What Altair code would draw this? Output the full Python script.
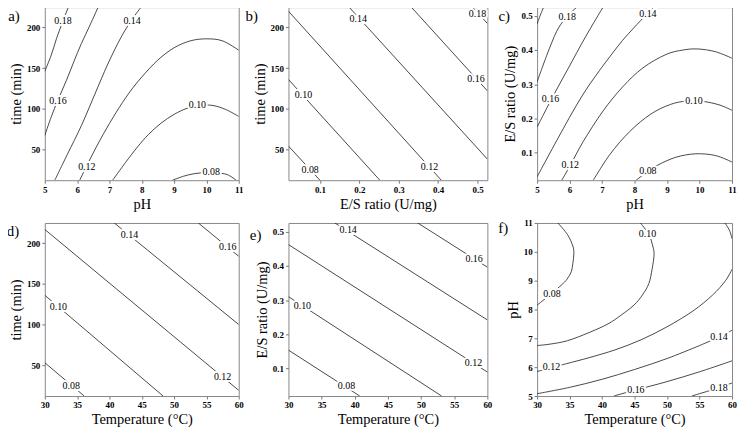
import altair as alt
import pandas as pd

SERIF = "Liberation Serif"

# ---------------- data ----------------
PH_TICKS = [5, 6, 7, 8, 9, 10, 11]
TIME_TICKS = [50, 100, 150, 200]
ES_TICKS = [0.1, 0.2, 0.3, 0.4, 0.5]
TEMP_TICKS = [30, 35, 40, 45, 50, 55, 60]
PH_DOMAIN = [5, 11]
TIME_DOMAIN = [12, 225]
ES_DOMAIN = [0.02, 0.525]
TEMP_DOMAIN = [30, 60]

# a) time vs pH : contour level -> (pH, time) points
A_LINES = {
    "0.18": [(5.0, 146), (5.2, 166), (5.36, 186), (5.56, 208), (5.73, 225)],
    "0.16": [(5.0, 67), (5.2, 90), (5.41, 111), (5.67, 135), (5.9, 158), (6.13, 180), (6.4, 203), (6.65, 225)],
    "0.14": [(5.31, 12), (5.7, 44), (6.13, 79), (6.55, 118), (6.95, 155), (7.36, 188), (7.7, 210), (7.98, 225)],
    "0.12": [(6.08, 12), (6.4, 38), (6.8, 68), (7.2, 95), (7.6, 119), (8.0, 139), (8.5, 160), (9.0, 175),
             (9.5, 183.5), (10.0, 186), (10.5, 183.5), (11.0, 172)],
    "0.10": [(7.1, 12), (7.5, 34), (7.87, 53), (8.2, 68), (8.59, 82), (9.0, 93), (9.4, 100.5), (9.8, 104),
             (10.2, 104), (10.6, 99), (11.0, 90.5)],
    "0.08": [(8.95, 12), (9.3, 17), (9.62, 20), (10.0, 21.5), (10.3, 21), (10.64, 19), (10.92, 12)],
}
A_LABELS = [("0.18", 5.56, 208), ("0.16", 5.41, 110), ("0.14", 7.7, 208),
            ("0.12", 6.3, 28), ("0.10", 9.72, 104), ("0.08", 10.15, 21.5)]

# b) time vs E/S ratio
B_LINES = {
    "0.08": [(0.02, 54), (0.1, 12)],
    "0.10": [(0.02, 136), (0.252, 12)],
    "0.12": [(0.02, 220), (0.408, 12)],
    "0.14": [(0.174, 225), (0.525, 38)],
    "0.16": [(0.332, 225), (0.525, 122)],
    "0.18": [(0.487, 225), (0.525, 205)],
}
B_LABELS = [("0.18", 0.5, 216), ("0.16", 0.496, 136), ("0.14", 0.197, 210),
            ("0.12", 0.378, 28), ("0.10", 0.058, 117), ("0.08", 0.075, 25)]

# c) E/S ratio vs pH
C_LINES = {
    "0.20": [(5.0, 0.476), (5.1, 0.502), (5.2, 0.525)],
    "0.18": [(5.0, 0.307), (5.3, 0.385), (5.6, 0.454), (5.85, 0.49), (6.05, 0.51), (6.22, 0.525)],
    "0.16": [(5.0, 0.175), (5.45, 0.258), (5.95, 0.345), (6.5, 0.44), (7.03, 0.525)],
    "0.14": [(5.0, 0.03), (5.6, 0.135), (6.11, 0.222), (6.5, 0.283), (6.92, 0.34), (7.3, 0.388),
             (7.63, 0.428), (8.0, 0.467), (8.25, 0.492), (8.58, 0.525)],
    "0.12": [(5.76, 0.02), (6.02, 0.063), (6.42, 0.133), (7.03, 0.222), (7.64, 0.293), (8.26, 0.348),
             (8.97, 0.387), (9.5, 0.4), (9.95, 0.403), (10.49, 0.395), (11.0, 0.376)],
    "0.10": [(6.73, 0.02), (7.24, 0.095), (7.85, 0.162), (8.5, 0.213), (9.1, 0.241), (9.6, 0.251),
             (10.1, 0.25), (10.6, 0.24), (11.0, 0.224)],
    "0.08": [(8.05, 0.02), (8.41, 0.046), (8.71, 0.064), (9.27, 0.087), (9.88, 0.097), (10.49, 0.092),
             (11.0, 0.073)],
}
C_LABELS = [("0.18", 5.93, 0.497), ("0.16", 5.41, 0.258), ("0.14", 8.41, 0.506),
            ("0.12", 6.02, 0.063), ("0.10", 9.83, 0.252), ("0.08", 8.41, 0.046)]

# d) time vs Temperature
D_LINES = {
    "0.08": [(30, 53), (36.1, 12)],
    "0.10": [(30, 136), (48.3, 12)],
    "0.12": [(30, 217), (60, 19)],
    "0.14": [(40.75, 225), (60, 100)],
    "0.16": [(53.75, 225), (60, 184)],
}
D_LABELS = [("0.08", 34.1, 24), ("0.10", 32.1, 121), ("0.12", 57.5, 35),
            ("0.14", 43.1, 210), ("0.16", 58.3, 195)]

# e) E/S ratio vs Temperature
E_LINES = {
    "0.08": [(30, 0.154), (40.75, 0.02)],
    "0.10": [(30, 0.31), (53.1, 0.02)],
    "0.12": [(30, 0.462), (60, 0.09)],
    "0.14": [(37.0, 0.525), (60, 0.242)],
    "0.16": [(49.5, 0.525), (60, 0.396)],
}
E_LABELS = [("0.08", 38.75, 0.05), ("0.10", 32.1, 0.283), ("0.12", 57.9, 0.116),
            ("0.14", 39.0, 0.505), ("0.16", 58.0, 0.421)]

# f) pH vs Temperature
F_LINES = {
    "0.08": [(33.2, 11.0), (34.7, 10.59), (35.5, 10.2), (35.66, 9.95), (35.5, 9.6), (35.26, 9.31),
             (34.6, 9.05), (33.7, 8.84), (32.2, 8.55), (30, 8.15)],
    "0.10": [(45.9, 11.0), (47.2, 10.6), (47.8, 10.2), (48.0, 9.9), (47.7, 9.4), (47.2, 8.9), (46.2, 8.5),
             (44.9, 8.15), (42.9, 7.8), (40.9, 7.5), (38, 7.2), (34.7, 6.92), (32, 6.8), (30, 6.75)],
    "0.12a": [(30, 5.85), (34.5, 6.12), (38, 6.33), (42, 6.6), (46, 6.95), (50, 7.4), (54, 7.95),
              (57, 8.5), (59, 9.0), (60, 9.4)],
    "0.12b": [(58.9, 11.0), (59.6, 10.75), (60.0, 10.45)],
    "0.14": [(30, 5.08), (35, 5.3), (40, 5.58), (45, 5.92), (50, 6.3), (55, 6.75), (58, 7.05), (60, 7.28)],
    "0.16": [(41.8, 5.0), (45, 5.2), (50, 5.5), (55, 5.84), (60, 6.22)],
    "0.18": [(53.8, 5.0), (57, 5.22), (60, 5.45)],
}
F_LABELS = [("0.08", 32.3, 8.55), ("0.10", 47.0, 10.62), ("0.12", 32.2, 6.0),
            ("0.14", 58.0, 7.05), ("0.16", 45.2, 5.22), ("0.18", 58.0, 5.29)]


def panel(lines, labels, xdom, ydom, xticks, yticks, xtitle, ytitle, xfmt, yfmt,
          w, h, tag, tagx, tagy):
    rows = []
    for lev, pts in lines.items():
        for i, (x, y) in enumerate(pts):
            rows.append({"x": x, "y": y, "seg": lev, "o": i})
    df = pd.DataFrame(rows)
    lab = pd.DataFrame([{"t": t, "x": x, "y": y} for t, x, y in labels])

    def X():
        return alt.X("x:Q", title=xtitle,
                     scale=alt.Scale(domain=xdom, nice=False, zero=False),
                     axis=alt.Axis(values=xticks, format=xfmt, labelFlush=False))

    def Y():
        return alt.Y("y:Q", title=ytitle,
                     scale=alt.Scale(domain=ydom, nice=False, zero=False),
                     axis=alt.Axis(values=yticks, format=yfmt, labelFlush=False))

    ln = alt.Chart(df).mark_line(color="#1a1a1a", strokeWidth=0.8, clip=True,
                                 interpolate="cardinal").encode(
        x=X(), y=Y(), detail="seg:N", order="o:Q")
    halo = alt.Chart(lab).mark_text(font=SERIF, fontSize=10, fill="white", stroke="white",
                                    strokeWidth=4).encode(x=X(), y=Y(), text="t:N")
    txt = alt.Chart(lab).mark_text(font=SERIF, fontSize=10, color="black").encode(
        x=X(), y=Y(), text="t:N")
    tg = alt.Chart(pd.DataFrame({"t": [tag]})).mark_text(
        font=SERIF, fontSize=15, color="black", align="center", baseline="middle").encode(
        x=alt.value(tagx), y=alt.value(tagy), text="t:N")
    return alt.layer(ln, halo, txt, tg).properties(width=w, height=h)


pa = panel(A_LINES, A_LABELS, PH_DOMAIN, TIME_DOMAIN, PH_TICKS, TIME_TICKS, "pH", "time (min)",
           "d", "d", 195, 174, "a)", -31, 9)
pb = panel(B_LINES, B_LABELS, ES_DOMAIN, TIME_DOMAIN, ES_TICKS, TIME_TICKS, "E/S ratio (U/mg)",
           "time (min)", ".1f", "d", 200, 174, "b)", -37, 9)
pc = panel(C_LINES, C_LABELS, PH_DOMAIN, ES_DOMAIN, PH_TICKS, ES_TICKS, "pH", "E/S ratio (U/mg)",
           "d", ".1f", 196, 174, "c)", -33, 9)
pd_ = panel(D_LINES, D_LABELS, TEMP_DOMAIN, TIME_DOMAIN, TEMP_TICKS, TIME_TICKS,
            "Temperature (°C)", "time (min)", "d", "d", 195, 174, "d)", -32, 8)
pe = panel(E_LINES, E_LABELS, TEMP_DOMAIN, ES_DOMAIN, TEMP_TICKS, ES_TICKS,
           "Temperature (°C)", "E/S ratio (U/mg)", "d", ".1f", 200, 174, "e)", -33, 12)
pf = panel(F_LINES, F_LABELS, TEMP_DOMAIN, [5, 11], TEMP_TICKS, PH_TICKS,
           "Temperature (°C)", "pH", "d", "d", 196, 174, "f)", -34, 5)

chart = alt.concat(pa, pb, pc, pd_, pe, pf, columns=3,
                   spacing={"row": 43, "column": 50}, bounds="flush").properties(
    padding={"left": -2, "top": -3, "right": 0, "bottom": 0}
).configure_view(stroke="#888888", strokeWidth=1).configure_axis(
    domain=False, grid=False, ticks=True, tickSize=3, tickColor="#777777",
    labelFont=SERIF, labelFontSize=9, labelFontWeight="bold", labelColor="black", labelPadding=2,
    titleFont=SERIF, titleFontSize=14.5, titleFontWeight="normal", titleColor="black",
    titlePadding=3,
).configure_axisY(labelAngle=0)

chart.save("out.html", embed_options={"renderer": "svg", "actions": False})
